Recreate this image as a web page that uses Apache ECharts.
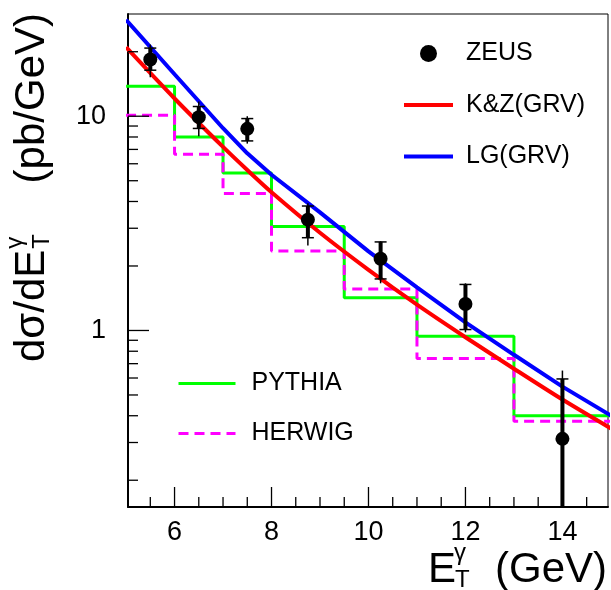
<!DOCTYPE html>
<html><head><meta charset="utf-8">
<script src="https://cdn.jsdelivr.net/npm/echarts@6/dist/echarts.min.js"></script>
<style>html,body{margin:0;padding:0;background:#fff}#c{width:611px;height:590px}</style>
</head><body><div id="c"></div>
<script>
// ---- data ----
const binEdges = [5, 6, 7, 8, 9.5, 11, 13, 15];
const pythia = [13.8, 8.0, 5.43, 3.06, 1.42, 0.94, 0.40];
const herwig = [10.1, 6.64, 4.36, 2.35, 1.56, 0.74, 0.377];
const curveEt = [5, 6, 7, 7.5, 8, 9, 10, 11, 12, 13, 14, 15];
const kzGrv = [21.0, 12.1, 7.19, 5.61, 4.42, 2.86, 1.92, 1.32, 0.93, 0.663, 0.476, 0.349];
const lgGrv = [28.2, 15.7, 8.79, 6.71, 5.33, 3.56, 2.34, 1.59, 1.09, 0.77, 0.547, 0.401];
const zeusEt = [5.5, 6.5, 7.5, 8.75, 10.25, 12, 14];
const zeusXsec = [18.4, 9.9, 8.73, 3.29, 2.16, 1.33, 0.312];
const zeusStatUp = [20.8, 11.1, 9.75, 3.81, 2.59, 1.64, 0.594];
const zeusStatDown = [16.4, 8.77, 7.67, 2.71, 1.74, 1.01, 0.1];
const zeusTotUp = [21.6, 11.7, 10.0, 3.93, 2.61, 1.66, 0.65];
const zeusTotDown = [15.2, 8.07, 7.45, 2.49, 1.66, 0.98, 0.1];
const xLabels = [6, 8, 10, 12, 14];
const xMinorTicks = [5.5, 6.5, 7, 7.5, 8.5, 9, 9.5, 10.5, 11, 11.5, 12.5, 13, 13.5, 14.5];
const yLabels = [1, 10];
const yMinorTicks = [0.2, 0.3, 0.4, 0.5, 0.6, 0.7, 0.8, 0.9, 2, 3, 4, 5, 6, 7, 8, 9, 20];

const X_MIN = 5.04, X_MAX = 14.94, Y_MIN = 0.15, Y_MAX = 30;
const fam = '"Liberation Sans", Arial, Helvetica, sans-serif';

const mctx = document.createElement('canvas').getContext('2d');
function mw(t, s) { mctx.font = s + 'px "Liberation Sans"'; return mctx.measureText(t).width; }

function histData(vals) {
  return binEdges.map((e, i) => [e, vals[Math.min(i, vals.length - 1)]]);
}

function tickSeries(vals, dir, len) {
  return {
    type: 'custom', silent: true, z: 6,
    data: vals.map(v => dir === 'x' ? [v, 1] : [X_MIN, v]),
    renderItem: function (params, api) {
      const cs = params.coordSys;
      const p = api.coord([api.value(0), api.value(1)]);
      if (dir === 'x') {
        const yb = cs.y + cs.height;
        return { type: 'line', shape: { x1: p[0], y1: yb, x2: p[0], y2: yb - len }, style: { stroke: '#000', lineWidth: 1.3 } };
      }
      return { type: 'line', shape: { x1: cs.x, y1: p[1], x2: cs.x + len, y2: p[1] }, style: { stroke: '#000', lineWidth: 1.3 } };
    }
  };
}

const chart = echarts.init(document.getElementById('c'), null, { renderer: 'canvas' });

const wMain = mw('d\u03c3/dE', 42);

const legendText = { fontSize: 25, color: '#000', fontFamily: fam };

const option = {
  animation: false,
  backgroundColor: '#fff',
  grid: { left: 128, right: 1, top: 14, bottom: 83, show: true, borderColor: '#000', borderWidth: 1, backgroundColor: 'transparent' },
  xAxis: {
    type: 'value', min: X_MIN, max: X_MAX,
    axisLine: { show: true, onZero: false, lineStyle: { color: '#000', width: 2 } },
    axisTick: { show: false }, splitLine: { show: false },
    axisLabel: {
      color: '#000', fontSize: 27, fontFamily: fam, margin: 12,
      formatter: v => (xLabels.indexOf(v) >= 0 ? String(v) : '')
    }
  },
  yAxis: {
    type: 'log', logBase: 10, min: Y_MIN, max: Y_MAX,
    axisLine: { show: true, onZero: false, lineStyle: { color: '#000', width: 2 } },
    axisTick: { show: false }, splitLine: { show: false },
    axisLabel: {
      color: '#000', fontSize: 27, fontFamily: fam, margin: 22,
      formatter: v => { const t = yLabels.find(l => Math.abs(l - v) < 1e-6 * l); return t ? String(t) : ''; }
    }
  },
  legend: [
    {
      data: [{ name: 'ZEUS', icon: 'circle', itemStyle: { opacity: 1, color: '#000' } }, { name: 'K&Z(GRV)' }, { name: 'LG(GRV)' }],
      orient: 'vertical', left: 402, top: 41, padding: 0, itemWidth: 49, itemHeight: 17, itemGap: 26.5,
      selectedMode: false, lineStyle: { width: 'inherit' }, itemStyle: { opacity: 0 },
      textStyle: Object.assign({ padding: [0, 0, 0, 8] }, legendText)
    },
    {
      data: ['PYTHIA', 'HERWIG'],
      orient: 'vertical', left: 177, top: 371, padding: 0, itemWidth: 57, itemHeight: 14, itemGap: 25,
      selectedMode: false, lineStyle: { width: 'inherit' }, itemStyle: { opacity: 0 },
      textStyle: Object.assign({ padding: [0, 0, 0, 11] }, legendText)
    }
  ],
  series: [
    {
      name: 'PYTHIA', type: 'line', step: 'end', symbol: 'none', z: 2,
      data: histData(pythia), color: '#00ff00',
      lineStyle: { color: '#00ff00', width: 3 }
    },
    {
      name: 'HERWIG', type: 'line', step: 'end', symbol: 'none', z: 2,
      data: histData(herwig), color: '#ff00ff',
      lineStyle: { color: '#ff00ff', width: 3, type: [10, 6] }
    },
    {
      name: 'K&Z(GRV)', type: 'line', symbol: 'none', smooth: 0.3, z: 3,
      data: curveEt.map((e, i) => [e, kzGrv[i]]), color: '#ff0000',
      lineStyle: { color: '#ff0000', width: 4 }
    },
    {
      name: 'LG(GRV)', type: 'line', symbol: 'none', z: 4,
      data: curveEt.map((e, i) => [e, lgGrv[i]]), color: '#0000ff',
      lineStyle: { color: '#0000ff', width: 4 }
    },
    {
      name: 'ZEUS', type: 'custom', z: 8, itemStyle: { color: '#000' },
      encode: { x: 0, y: 1 },
      data: zeusEt.map((e, i) => [e, zeusXsec[i], zeusStatDown[i], zeusStatUp[i], zeusTotDown[i], zeusTotUp[i]]),
      renderItem: function (params, api) {
        const cs = params.coordSys;
        const top = cs.y, bot = cs.y + cs.height;
        const cl = y => Math.max(top, Math.min(bot, y));
        const xv = api.value(0);
        const c = api.coord([xv, api.value(1)]);
        const sd = api.coord([xv, api.value(2)])[1];
        const su = api.coord([xv, api.value(3)])[1];
        const td = api.coord([xv, api.value(4)])[1];
        const tu = api.coord([xv, api.value(5)])[1];
        const x = c[0];
        const ch = [
          { type: 'line', shape: { x1: x, y1: cl(tu), x2: x, y2: cl(td) }, style: { stroke: '#000', lineWidth: 1.5 } },
          { type: 'line', shape: { x1: x, y1: cl(su), x2: x, y2: cl(sd) }, style: { stroke: '#000', lineWidth: 4 } }
        ];
        [su, sd].forEach(y => {
          if (y >= top && y <= bot) ch.push({ type: 'line', shape: { x1: x - 6, y1: y, x2: x + 6, y2: y }, style: { stroke: '#000', lineWidth: 1.5 } });
        });
        ch.push({ type: 'circle', shape: { cx: x, cy: c[1], r: 7 }, style: { fill: '#000' } });
        return { type: 'group', children: ch };
      }
    },
    tickSeries(xLabels, 'x', 20),
    tickSeries(xMinorTicks, 'x', 10),
    tickSeries(yLabels, 'y', 21),
    tickSeries(yMinorTicks, 'y', 10)
  ],
  graphic: [
    { type: 'text', x: 428, y: 585 - 14.6, style: { text: 'E', fontSize: 42, fontFamily: fam, fill: '#000', align: 'left', verticalAlign: 'middle' } },
    { type: 'text', x: 454, y: 562 - 8.3, style: { text: '\u03b3', fontSize: 24, fontFamily: fam, fill: '#000', align: 'left', verticalAlign: 'middle' } },
    { type: 'text', x: 455, y: 589 - 8.3, style: { text: 'T', fontSize: 24, fontFamily: fam, fill: '#000', align: 'left', verticalAlign: 'middle' } },
    { type: 'text', x: 607, y: 585 - 14.6, style: { text: '(GeV)', fontSize: 42, fontFamily: fam, fill: '#000', align: 'right', verticalAlign: 'middle' } },
    {
      type: 'group', x: 47, y: 362, rotation: Math.PI / 2,
      children: [
        { type: 'text', x: 0, y: -14.6, style: { text: 'd\u03c3/dE', fontSize: 42, fontFamily: fam, fill: '#000', align: 'left', verticalAlign: 'middle' } },
        { type: 'text', x: wMain + 1, y: -23 - 8.3, style: { text: '\u03b3', fontSize: 24, fontFamily: fam, fill: '#000', align: 'left', verticalAlign: 'middle' } },
        { type: 'text', x: wMain + 1, y: 4 - 8.3, style: { text: 'T', fontSize: 24, fontFamily: fam, fill: '#000', align: 'left', verticalAlign: 'middle' } },
        { type: 'text', x: 349, y: -14.6, style: { text: '(pb/GeV)', fontSize: 42, fontFamily: fam, fill: '#000', align: 'right', verticalAlign: 'middle' } }
      ]
    }
  ]
};
chart.setOption(option);
</script>
</body></html>
